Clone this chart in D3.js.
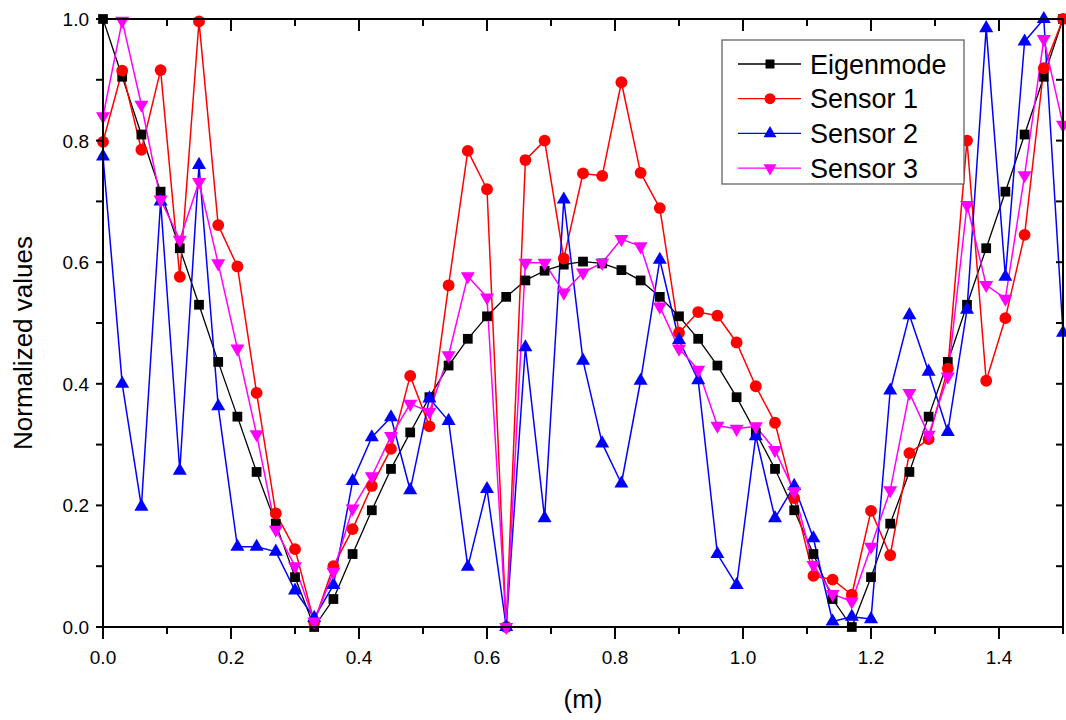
<!DOCTYPE html>
<html><head><meta charset="utf-8">
<script src="https://cdn.jsdelivr.net/npm/d3@7"></script>
<style>body{margin:0;background:#fff;}svg{display:block;}</style>
</head><body>
<svg id="chart" width="1066" height="720"></svg>
<script>
const positions = [0.00,0.03,0.06,0.09,0.12,0.15,0.18,0.21,0.24,0.27,0.30,0.33,0.36,0.39,0.42,0.45,0.48,0.51,0.54,0.57,0.60,0.63,0.66,0.69,0.72,0.75,0.78,0.81,0.84,0.87,0.90,0.93,0.96,0.99,1.02,1.05,1.08,1.11,1.14,1.17,1.20,1.23,1.26,1.29,1.32,1.35,1.38,1.41,1.44,1.47,1.50];
const eigenmode = [1.0,0.905,0.81,0.716,0.623,0.53,0.436,0.346,0.255,0.17,0.082,0.0,0.046,0.12,0.192,0.26,0.32,0.378,0.43,0.474,0.511,0.543,0.57,0.586,0.596,0.601,0.598,0.587,0.57,0.543,0.511,0.474,0.43,0.378,0.32,0.26,0.192,0.12,0.046,0.0,0.082,0.17,0.255,0.346,0.436,0.53,0.623,0.716,0.81,0.905,1.0];
const sensor1 = [0.798,0.915,0.785,0.916,0.576,0.996,0.661,0.593,0.385,0.187,0.128,0.008,0.10,0.161,0.232,0.293,0.413,0.33,0.562,0.783,0.72,0.0,0.768,0.80,0.606,0.746,0.742,0.896,0.747,0.689,0.484,0.518,0.512,0.468,0.396,0.336,0.212,0.084,0.078,0.053,0.191,0.118,0.286,0.309,0.425,0.80,0.405,0.508,0.645,0.919,1.0];
const sensor2 = [0.774,0.40,0.198,0.70,0.257,0.76,0.363,0.132,0.132,0.124,0.06,0.015,0.069,0.24,0.312,0.345,0.225,0.376,0.339,0.099,0.227,0.0,0.46,0.179,0.703,0.438,0.302,0.236,0.405,0.604,0.472,0.406,0.12,0.069,0.314,0.179,0.232,0.146,0.009,0.017,0.013,0.389,0.513,0.42,0.321,0.522,0.985,0.576,0.963,1.0,0.484];
const sensor3 = [0.84,0.997,0.859,0.703,0.637,0.732,0.598,0.458,0.317,0.16,0.10,0.009,0.091,0.195,0.248,0.314,0.367,0.354,0.447,0.577,0.542,0.0,0.599,0.599,0.55,0.583,0.599,0.638,0.626,0.527,0.458,0.423,0.331,0.326,0.33,0.291,0.223,0.102,0.054,0.042,0.132,0.225,0.385,0.316,0.412,0.694,0.5625,0.54,0.743,0.967,0.826];
const seriesNames = ["Eigenmode","Sensor 1","Sensor 2","Sensor 3"];
const xTickValues = [0,0.2,0.4,0.6,0.8,1.0,1.2,1.4];
const yTickValues = [0,0.2,0.4,0.6,0.8,1.0];
const xTitle = "(m)";
const yTitle = "Normalized values";

const series = [
  {name: seriesNames[0], values: eigenmode, color: "#000000", symbol: d3.symbolSquare, size: 95, rot: 0, lw: 1.3},
  {name: seriesNames[1], values: sensor1, color: "#ff0000", symbol: d3.symbolCircle, size: 110, rot: 0, lw: 1.5},
  {name: seriesNames[2], values: sensor2, color: "#0000ff", symbol: d3.symbolTriangle, size: 85, rot: 0, lw: 1.5},
  {name: seriesNames[3], values: sensor3, color: "#ff00ff", symbol: d3.symbolTriangle, size: 85, rot: 180, lw: 1.5}
];

const L = 103, R = 1063, T = 19, B = 627;
const svg = d3.select("#chart");
const x = d3.scaleLinear().domain([0, 1.5]).range([L, R]);
const y = d3.scaleLinear().domain([0, 1.0]).range([B, T]);
const font = "Arial, 'Liberation Sans', sans-serif";

const plot = svg.append("g");
const line = d3.line().x((d,i) => x(positions[i])).y(d => y(d));

series.forEach(s => {
  plot.append("path").datum(s.values).attr("d", line)
    .attr("fill", "none").attr("stroke", s.color).attr("stroke-width", s.lw).attr("stroke-linejoin", "round");
});
series.forEach(s => {
  const sym = d3.symbol().type(s.symbol).size(s.size);
  plot.selectAll(null).data(s.values).enter().append("path")
    .attr("d", sym)
    .attr("transform", (d,i) => `translate(${x(positions[i])},${y(d)}) rotate(${s.rot})`)
    .attr("fill", s.color);
});

// Axes
const minorX = d3.range(0, 1.5001, 0.1);
const yTicksAll = d3.range(0, 1.0001, 0.1);
const axisG = svg.append("g").attr("stroke", "#000").attr("stroke-width", 2);
axisG.append("rect").attr("x", L).attr("y", T).attr("width", R-L).attr("height", B-T).attr("fill", "none");

const isMajor = v => Math.abs(v*5 - Math.round(v*5)) < 1e-6;
minorX.forEach(v => {
  const len = isMajor(v) ? 12 : 7;
  axisG.append("line").attr("x1", x(v)).attr("x2", x(v)).attr("y1", B).attr("y2", B+len);
  axisG.append("line").attr("x1", x(v)).attr("x2", x(v)).attr("y1", T).attr("y2", T+len);
});
yTicksAll.forEach(v => {
  axisG.append("line").attr("x1", L-7).attr("x2", L).attr("y1", y(v)).attr("y2", y(v));
  axisG.append("line").attr("x1", R-7).attr("x2", R).attr("y1", y(v)).attr("y2", y(v));
});

svg.append("g").selectAll("text").data(xTickValues).enter().append("text")
  .attr("x", d => x(d)).attr("y", 664).attr("text-anchor", "middle")
  .attr("font-family", font).attr("font-size", 19).text(d => d.toFixed(1));
svg.append("g").selectAll("text").data(yTickValues).enter().append("text")
  .attr("x", 89).attr("y", d => y(d) + 7).attr("text-anchor", "end")
  .attr("font-family", font).attr("font-size", 19).text(d => d.toFixed(1));

svg.append("text").attr("x", x(0.75)).attr("y", 708).attr("text-anchor", "middle")
  .attr("font-family", font).attr("font-size", 26).text(xTitle);
svg.append("text").attr("transform", `translate(32,${(T+B)/2 + 20}) rotate(-90)`).attr("text-anchor", "middle")
  .attr("font-family", font).attr("font-size", 26).text(yTitle);

// Legend
const lg = svg.append("g");
lg.append("rect").attr("x", 722).attr("y", 40).attr("width", 242).attr("height", 144)
  .attr("fill", "#fff").attr("stroke", "#555").attr("stroke-width", 1.2);
series.forEach((s, k) => {
  const yy = 64 + k * 34.7;
  lg.append("line").attr("x1", 738).attr("x2", 801).attr("y1", yy).attr("y2", yy)
    .attr("stroke", s.color).attr("stroke-width", 1.3);
  lg.append("path").attr("d", d3.symbol().type(s.symbol).size(s.size*0.85))
    .attr("transform", `translate(770,${yy}) rotate(${s.rot})`).attr("fill", s.color);
  lg.append("text").attr("x", 810).attr("y", yy + 9.5).attr("font-family", font)
    .attr("font-size", 27).text(s.name);
});
</script>
</body></html>
